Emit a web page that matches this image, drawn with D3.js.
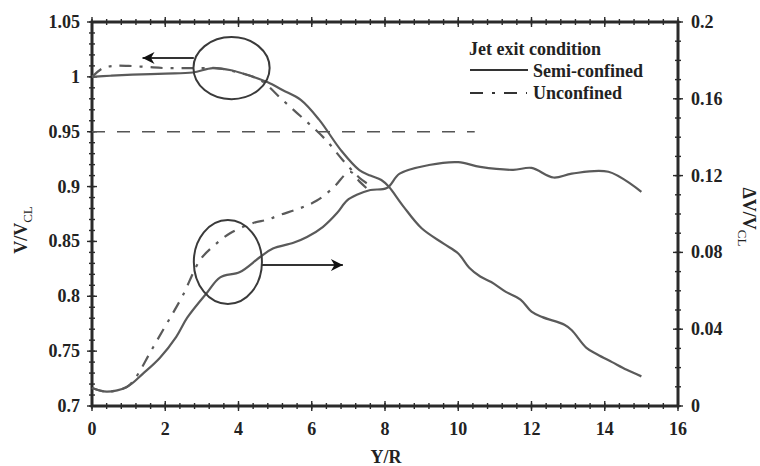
<!DOCTYPE html>
<html>
<head>
<meta charset="utf-8">
<script src="https://cdn.jsdelivr.net/npm/d3@7"></script>
<style>
  html, body { margin: 0; padding: 0; background: #fff; }
  svg { display: block; }
  text { font-family: "Liberation Serif", "DejaVu Serif", serif; font-weight: bold; fill: #222; }
</style>
</head>
<body>
<svg id="chart" width="760" height="466"></svg>
<script>
// Axial position Y/R
const xTicks = [0, 2, 4, 6, 8, 10, 12, 14, 16];
const leftTicks = [0.7, 0.75, 0.8, 0.85, 0.9, 0.95, 1, 1.05];
const leftTickLabels = ["0.7", "0.75", "0.8", "0.85", "0.9", "0.95", "1", "1.05"];
const rightTicks = [0, 0.04, 0.08, 0.12, 0.16, 0.2];
const rightTickLabels = ["0", "0.04", "0.08", "0.12", "0.16", "0.2"];

// Centreline velocity ratio V/V_CL (left axis)
const semiLeftX = [0, 0.5, 1.1, 2.0, 2.75, 3.3, 3.8, 4.4, 4.8, 5.2, 5.7, 6.2, 6.8, 7.3, 7.6, 7.9, 8.1, 8.5, 9.0, 9.6, 10.0, 10.3, 10.6, 10.9, 11.3, 11.7, 12.0, 12.3, 12.9, 13.1, 13.5, 13.8, 14.2, 14.6, 15.0];
const semiLeftV = [1.0, 1.001, 1.002, 1.003, 1.004, 1.008, 1.006, 1.0, 0.995, 0.988, 0.979, 0.961, 0.933, 0.915, 0.910, 0.906, 0.900, 0.882, 0.862, 0.848, 0.839, 0.826, 0.818, 0.813, 0.804, 0.797, 0.786, 0.781, 0.774, 0.769, 0.753, 0.747, 0.740, 0.733, 0.727];

const unconfLeftX = [0, 0.3, 0.6, 1.0, 1.5, 2.0, 2.5, 3.0, 3.4, 4.0, 4.6, 5.2, 5.6, 6.0, 6.4, 6.85, 7.3, 7.55];
const unconfLeftV = [1.0, 1.008, 1.010, 1.010, 1.009, 1.008, 1.008, 1.008, 1.008, 1.004, 0.997, 0.979, 0.967, 0.955, 0.942, 0.924, 0.908, 0.902];

// Velocity deficit ΔV/V_CL (right axis)
const semiRightX = [0, 0.4, 0.95, 1.4, 1.85, 2.3, 2.6, 3.14, 3.5, 4.04, 4.59, 4.94, 5.5, 5.87, 6.3, 6.69, 6.96, 7.23, 7.6, 8.05, 8.4, 9.2, 10.0, 10.6, 11.5, 12.0, 12.6, 13.1, 14.1, 15.0];
const semiRightR = [0.0094, 0.0075, 0.0099, 0.017, 0.025, 0.036, 0.046, 0.059, 0.067, 0.0698, 0.0776, 0.082, 0.085, 0.088, 0.0932, 0.1005, 0.107, 0.110, 0.1125, 0.1135, 0.121, 0.1255, 0.127, 0.1245, 0.123, 0.124, 0.119, 0.121, 0.122, 0.1115];

const unconfRightX = [0, 0.4, 0.95, 1.2, 1.58, 1.94, 2.21, 2.49, 2.95, 3.3, 3.77, 4.4, 4.78, 5.13, 5.68, 6.14, 6.58, 7.04, 7.3, 7.55];
const unconfRightR = [0.0094, 0.0075, 0.0099, 0.015, 0.0276, 0.0396, 0.0484, 0.058, 0.076, 0.083, 0.090, 0.0953, 0.097, 0.0995, 0.103, 0.107, 0.1135, 0.122, 0.117, 0.1125];

// Reference level on the left axis
const refLevel = 0.95;
const refExtent = [0, 10.45];

const legendTitle = "Jet exit condition";
const legendNames = ["Semi-confined", "Unconfined"];

const svg = d3.select("#chart");
const x = d3.scaleLinear().domain([0, 16]).range([92, 678]);
const yL = d3.scaleLinear().domain([0.7, 1.05]).range([406, 22]);
const yR = d3.scaleLinear().domain([0, 0.2]).range([406, 22]);

const curveColor = "#5a5a5a";
const axisColor = "#2a2a2a";
const dashDot = "12,8,3,8";

// Frame
svg.append("rect")
  .attr("x", x(0)).attr("y", yL(1.05))
  .attr("width", x(16) - x(0)).attr("height", yL(0.7) - yL(1.05))
  .attr("fill", "none").attr("stroke", axisColor).attr("stroke-width", 3);

// Crossing ticks on all four sides
function crossTicks(values, pos, horizontal, len) {
  svg.append("g").selectAll("line").data(values).join("line")
    .attr("x1", d => horizontal ? x(d) : pos - len)
    .attr("x2", d => horizontal ? x(d) : pos + len)
    .attr("y1", d => horizontal ? pos - len : d)
    .attr("y2", d => horizontal ? pos + len : d)
    .attr("stroke", axisColor).attr("stroke-width", 1.4);
}
const xMinor = d3.range(0, 16.001, 0.4);
crossTicks(xMinor, yL(0.7), true, 3);
crossTicks(xMinor, yL(1.05), true, 3);
crossTicks(xTicks, yL(0.7), true, 5);
crossTicks(xTicks, yL(1.05), true, 5);
crossTicks(d3.range(0.7, 1.0501, 0.01).map(v => yL(v)), x(0), false, 3);
crossTicks(leftTicks.map(v => yL(v)), x(0), false, 5);
crossTicks(d3.range(0, 0.2001, 0.01).map(v => yR(v)), x(16), false, 3);
crossTicks(rightTicks.map(v => yR(v)), x(16), false, 5);

// Tick labels
svg.append("g").selectAll("text").data(xTicks).join("text")
  .attr("x", d => x(d)).attr("y", 435)
  .attr("text-anchor", "middle").attr("font-size", 18)
  .text(d => d);
svg.append("g").selectAll("text").data(leftTicks).join("text")
  .attr("x", 80).attr("y", d => yL(d) + 6)
  .attr("text-anchor", "end").attr("font-size", 18)
  .text((d, i) => leftTickLabels[i]);
svg.append("g").selectAll("text").data(rightTicks).join("text")
  .attr("x", 691).attr("y", d => yR(d) + 6)
  .attr("text-anchor", "start").attr("font-size", 18)
  .text((d, i) => rightTickLabels[i]);

// Axis titles
svg.append("text").attr("x", 386).attr("y", 463)
  .attr("text-anchor", "middle").attr("font-size", 18).text("Y/R");
const lt = svg.append("text")
  .attr("transform", "translate(27,230) rotate(-90)")
  .attr("text-anchor", "middle").attr("font-size", 18);
lt.append("tspan").text("V/V");
lt.append("tspan").attr("dy", 5).attr("font-size", 13).attr("font-weight", "normal").text("CL");
const rt = svg.append("text")
  .attr("transform", "translate(743,217) rotate(90)")
  .attr("text-anchor", "middle").attr("font-size", 18);
rt.append("tspan").text("ΔV/V");
rt.append("tspan").attr("dy", 5).attr("font-size", 13).attr("font-weight", "normal").text("CL");

// Reference dashed line
svg.append("line")
  .attr("x1", x(refExtent[0])).attr("x2", x(refExtent[1]))
  .attr("y1", yL(refLevel)).attr("y2", yL(refLevel))
  .attr("stroke", "#555").attr("stroke-width", 1.6)
  .attr("stroke-dasharray", "13,12");

// Curves
const curve = d3.curveCatmullRom.alpha(0.5);
function drawSeries(xs, vs, yScale, dash) {
  const pts = xs.map((d, i) => [d, vs[i]]);
  svg.append("path").datum(pts)
    .attr("d", d3.line().x(d => x(d[0])).y(d => yScale(d[1])).curve(curve))
    .attr("fill", "none").attr("stroke", curveColor)
    .attr("stroke-width", 2.2).attr("stroke-linejoin", "round")
    .attr("stroke-dasharray", dash);
}
drawSeries(semiLeftX, semiLeftV, yL, null);
drawSeries(unconfLeftX, unconfLeftV, yL, dashDot);
drawSeries(semiRightX, semiRightR, yR, null);
drawSeries(unconfRightX, unconfRightR, yR, dashDot);

// Annotations: circled regions with arrows toward their axes
svg.append("defs").append("marker")
  .attr("id", "head").attr("viewBox", "0 0 10 10")
  .attr("refX", 10).attr("refY", 5)
  .attr("markerWidth", 7).attr("markerHeight", 6)
  .attr("markerUnits", "strokeWidth").attr("orient", "auto")
  .append("path").attr("d", "M0,0 L10,5 L0,10 L3,5 Z").attr("fill", "#111");

svg.append("ellipse")
  .attr("cx", x(3.81)).attr("cy", yL(1.008))
  .attr("rx", x(3.81 + 1.04) - x(3.81)).attr("ry", yL(1.008) - yL(1.008 + 0.0283))
  .attr("fill", "none").attr("stroke", "#3a3a3a").attr("stroke-width", 2);
svg.append("line")
  .attr("x1", x(2.78)).attr("y1", yL(1.0172))
  .attr("x2", x(1.38)).attr("y2", yL(1.0172))
  .attr("stroke", "#333").attr("stroke-width", 2)
  .attr("marker-end", "url(#head)");

svg.append("ellipse")
  .attr("cx", x(3.71)).attr("cy", yR(0.075))
  .attr("rx", x(3.71 + 0.93) - x(3.71)).attr("ry", yR(0.075) - yR(0.075 + 0.0219))
  .attr("fill", "none").attr("stroke", "#3a3a3a").attr("stroke-width", 2);
svg.append("line")
  .attr("x1", x(4.64)).attr("y1", yR(0.0734))
  .attr("x2", x(6.85)).attr("y2", yR(0.0734))
  .attr("stroke", "#333").attr("stroke-width", 2)
  .attr("marker-end", "url(#head)");

// Legend
const lg = svg.append("g");
lg.append("text").attr("x", 469).attr("y", 55).attr("font-size", 18).text(legendTitle);
lg.append("line").attr("x1", 470).attr("x2", 528).attr("y1", 70).attr("y2", 70)
  .attr("stroke", "#333").attr("stroke-width", 2);
lg.append("text").attr("x", 533).attr("y", 77).attr("font-size", 18).text(legendNames[0]);
lg.append("line").attr("x1", 470).attr("x2", 527).attr("y1", 93).attr("y2", 93)
  .attr("stroke", "#333").attr("stroke-width", 2).attr("stroke-dasharray", "13,9,3,9");
lg.append("text").attr("x", 533).attr("y", 99).attr("font-size", 18).text(legendNames[1]);
</script>
</body>
</html>
